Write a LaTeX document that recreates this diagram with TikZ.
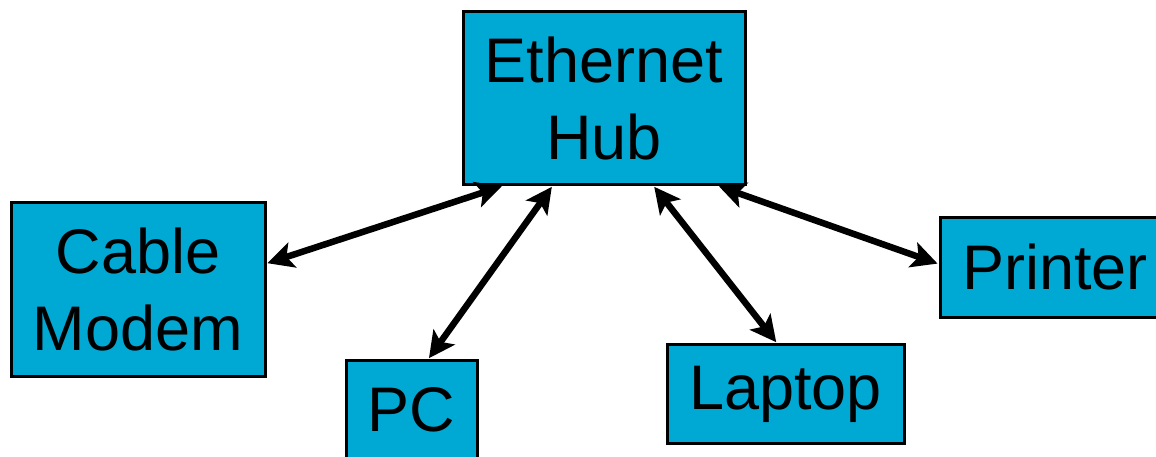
\documentclass[tikz,border=0pt]{standalone}
\usepackage{fontspec}
\setmainfont{Liberation Sans}
\usetikzlibrary{arrows.meta,calc}
\definecolor{boxfill}{HTML}{00A8D4}
\tikzset{
  netbox/.style={draw=black, line width=3pt, fill=boxfill, inner sep=0pt, align=center,
    font=\fontsize{63}{77}\selectfont},
  link/.style={line width=6.5pt, {Stealth[length=26pt,width=26pt,inset=6pt]}-{Stealth[length=26pt,width=26pt,inset=6pt]}, shorten <=1pt, shorten >=1pt}
}
\begin{document}
\begin{tikzpicture}[x=1pt,y=1pt]
\useasboundingbox (0,0) rectangle (1156,-456);
\begin{scope}
\clip (0,0) rectangle (1156,-456);
\node[netbox, minimum width=282pt, minimum height=173pt] (hub) at (604,-98) {Ethernet\\Hub};
\node[netbox, minimum width=254pt, minimum height=174pt] (modem) at (138,-289) {Cable\\Modem};
\node[netbox, minimum width=131pt, minimum height=99pt] (pc) at (411.5,-410) {PC};
\node[netbox, minimum width=237pt, minimum height=99pt] (laptop) at (785.5,-394) {Laptop};
\node[netbox, minimum width=230pt, minimum height=100pt] (printer) at (1055,-267) {Printer};
\coordinate (h1) at ($(hub.south west)!0.145!(hub.south east)$);
\coordinate (h2) at ($(hub.south west)!0.319!(hub.south east)$);
\coordinate (h3) at ($(hub.south west)!0.674!(hub.south east)$);
\coordinate (h4) at ($(hub.south west)!0.90!(hub.south east)$);
\coordinate (m1) at ($(modem.north east)!0.356!(modem.south east)$);
\coordinate (p1) at ($(pc.north west)!0.626!(pc.north east)$);
\coordinate (l1) at ($(laptop.north west)!0.464!(laptop.north east)$);
\coordinate (r1) at ($(printer.north west)!0.47!(printer.south west)$);
\draw[link] (h1) -- (m1);
\draw[link] (h2) -- (p1);
\draw[link] (h3) -- (l1);
\draw[link] (h4) -- (r1);
\end{scope}
\end{tikzpicture}
\end{document}
